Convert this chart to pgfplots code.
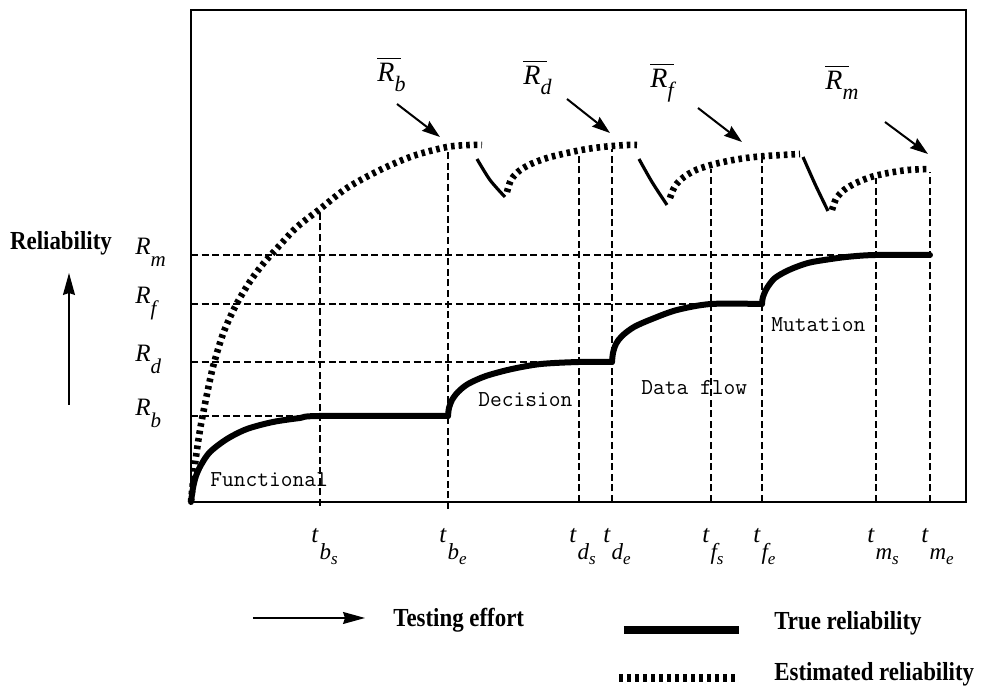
\documentclass[border=0pt]{standalone}
\usepackage{fontspec}
\setmainfont{Liberation Serif}
\usepackage{pgfplots}
\pgfplotsset{compat=1.18}
\usetikzlibrary{arrows.meta}

% reliability levels on the left
\newcommand{\Rlev}[1]{{\fontsize{12.5}{14}\selectfont\itshape R\raisebox{-6pt}{\fontsize{10.5}{11}\selectfont #1}}}
% estimated reliability labels with overbar
\newcommand{\Rbar}[1]{{\fontsize{14}{16}\selectfont\itshape\rlap{\raisebox{11.5pt}{\rule{12pt}{0.6pt}}}R\raisebox{-5pt}{\fontsize{11}{12}\selectfont #1}}}
% testing-effort instants t_{x_y}
\newcommand{\tlab}[2]{{\fontsize{12.5}{14}\selectfont\itshape t\kern0.6pt\raisebox{-8.5pt}{\fontsize{11.5}{12}\selectfont #1\raisebox{-2.5pt}{\fontsize{8.5}{9}\selectfont #2}}}}

\tikzset{
  refline/.style={line width=0.6pt, dash pattern=on 3.5pt off 1.8pt},
  truecurve/.style={line width=3pt, line cap=round, line join=round, smooth, tension=0.5},
  estcurve/.style={line width=3.3pt, dash pattern=on 1.8pt off 2pt, smooth, tension=0.5},
  dropline/.style={line width=1.6pt, smooth},
  bigtxt/.style={inner sep=0, xscale=0.88, font=\fontsize{13}{15}\selectfont\bfseries},
  monotxt/.style={anchor=base west, inner sep=0, font=\ttfamily\fontsize{11.4}{13}\selectfont},
}

\begin{document}
\begin{tikzpicture}
\useasboundingbox (-95.5pt,-93pt) rectangle (395.5pt,251pt);
\begin{axis}[
  at={(0,0)}, anchor=origin,
  x=0.5pt, y=0.5pt,
  xmin=0, xmax=775, ymin=0, ymax=492,
  xtick=\empty, ytick=\empty,
  axis line style={line width=0.8pt},
  clip=false,
  every axis plot/.append style={no markers, black},
]
% reference levels R_b, R_d, R_f, R_m
\addplot[refline] coordinates {(0,86) (129,86)};
\addplot[refline] coordinates {(0,140) (388,140)};
\addplot[refline] coordinates {(0,198) (520,198)};
\addplot[refline] coordinates {(0,247) (685,247)};
% start / end of each testing phase
\addplot[refline] coordinates {(129,-4) (129,290)};
\addplot[refline] coordinates {(257,-7) (257,352)};
\addplot[refline] coordinates {(388,0) (388,349)};
\addplot[refline] coordinates {(421,0) (421,353)};
\addplot[refline] coordinates {(520,0) (520,333)};
\addplot[refline] coordinates {(571,0) (571,343)};
\addplot[refline] coordinates {(685,0) (685,324)};
\addplot[refline] coordinates {(739,0) (739,330)};

% true reliability
\addplot[truecurve] coordinates {(0,0) (2,14) (5,26) (10,37) (19,50) (36,63) (56,73) (82,80) (109,84) (129,86) (257,86)};
\addplot[truecurve] coordinates {(257,86) (258,94) (261,102) (267,110) (277,118) (295,126) (321,133) (350,138) (388,140) (421,140)};
\addplot[truecurve] coordinates {(421,140) (422,149) (425,158) (431,166) (443,175) (461,183) (486,192) (520,198) (571,198)};
\addplot[truecurve] coordinates {(571,198) (572,205) (576,214) (584,224) (598,232) (617,239) (640,243) (660,245.5) (685,247) (739,247)};

% estimated reliability
\addplot[estcurve] coordinates {(0,0) (2,20) (5,45) (9,72) (15,103) (22,135) (32,168) (44,195) (58,219) (72,238) (89,257) (106,275) (129,293) (156,314) (189,332) (222,346) (256,355) (279,357) (291,357)};
\addplot[dropline] coordinates {(286,343) (299,322) (314,305)};
\addplot[estcurve] coordinates {(316,310) (320,322) (328,331) (340,338) (356,344) (376,349) (396,353) (416,355.5) (436,357) (446,357)};
\addplot[dropline] coordinates {(448,343) (461,320) (476,297)};
\addplot[estcurve] coordinates {(479,304) (484,316) (493,325) (505,332) (520,337) (537,341) (555,344) (575,346) (609,348)};
\addplot[dropline] coordinates {(612,345) (624,318) (637,291)};
\addplot[estcurve] coordinates {(641,292) (645,303) (653,312) (665,319) (680,325) (697,329) (717,332) (739,333)};

% phase names
\node[monotxt] at (axis cs:19,15) {Functional};
\node[monotxt] at (axis cs:287,95) {Decision};
\node[monotxt] at (axis cs:450,107) {Data flow};
\node[monotxt] at (axis cs:580,170) {Mutation};

% level labels
\node[anchor=base west, inner sep=0] at (axis cs:-56,86) {\Rlev{b}};
\node[anchor=base west, inner sep=0] at (axis cs:-56,140) {\Rlev{d}};
\node[anchor=base west, inner sep=0] at (axis cs:-56,198) {\Rlev{f}};
\node[anchor=base west, inner sep=0] at (axis cs:-56,247) {\Rlev{m}};

% estimated levels with arrows
\node[anchor=base west, inner sep=0] at (axis cs:186,420) {\Rbar{b}};
\node[anchor=base west, inner sep=0] at (axis cs:332,417) {\Rbar{d}};
\node[anchor=base west, inner sep=0] at (axis cs:459,414) {\Rbar{f}};
\node[anchor=base west, inner sep=0] at (axis cs:634,412) {\Rbar{m}};
\draw[line width=1pt, -{Stealth[length=9pt,width=6pt,inset=1pt]}] (axis cs:206,398) -- (axis cs:249,365);
\draw[line width=1pt, -{Stealth[length=9pt,width=6pt,inset=1pt]}] (axis cs:376,403) -- (axis cs:419,369);
\draw[line width=1pt, -{Stealth[length=9pt,width=6pt,inset=1pt]}] (axis cs:507,394) -- (axis cs:551,360);
\draw[line width=1pt, -{Stealth[length=9pt,width=6pt,inset=1pt]}] (axis cs:694,380) -- (axis cs:737,348);

% instants on the effort axis
\node[anchor=base west, inner sep=0] at (axis cs:120,-41) {\tlab{b}{s}};
\node[anchor=base west, inner sep=0] at (axis cs:248,-41) {\tlab{b}{e}};
\node[anchor=base west, inner sep=0] at (axis cs:378,-41) {\tlab{d}{s}};
\node[anchor=base west, inner sep=0] at (axis cs:412,-41) {\tlab{d}{e}};
\node[anchor=base west, inner sep=0] at (axis cs:511,-41) {\tlab{f}{s}};
\node[anchor=base west, inner sep=0] at (axis cs:562,-41) {\tlab{f}{e}};
\node[anchor=base west, inner sep=0] at (axis cs:676,-41) {\tlab{m}{s}};
\node[anchor=base west, inner sep=0] at (axis cs:730,-41) {\tlab{m}{e}};

% vertical axis caption
\node[bigtxt, anchor=base] at (axis cs:-130,252) {Reliability};
\draw[line width=0.7pt, -{Stealth[length=11pt,width=6pt,inset=1pt]}] (axis cs:-122,97) -- (axis cs:-122,229);

% key
\draw[line width=0.6pt, -{Stealth[length=11pt,width=6pt,inset=1pt]}] (axis cs:62,-116) -- (axis cs:174,-116);
\node[bigtxt, anchor=base west] at (axis cs:202,-125) {Testing effort};
\addplot[line width=4pt] coordinates {(433,-128) (548,-128)};
\node[bigtxt, anchor=base west] at (axis cs:583,-128) {True reliability};
\addplot[line width=4pt, dash pattern=on 2pt off 2pt] coordinates {(428,-176) (546,-176)};
\node[bigtxt, anchor=base west] at (axis cs:583,-179) {Estimated reliability};
\end{axis}
\end{tikzpicture}
\end{document}
